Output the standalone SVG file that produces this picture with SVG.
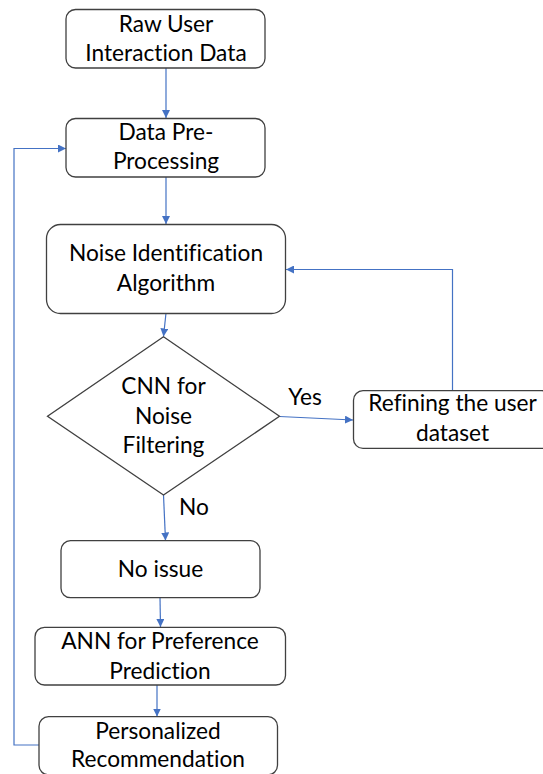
<svg xmlns="http://www.w3.org/2000/svg" width="543" height="774" viewBox="0 0 543 774">
  <style>
    .node { fill: #ffffff; stroke: #404040; stroke-width: 1.3; }
    .label { font-family: Lato, "Open Sans", "Liberation Sans", sans-serif; font-size: 22.7px; fill: #000000; text-anchor: middle; font-variant-ligatures: none; }
    .edge { fill: none; stroke: #4472c4; stroke-width: 1.2; }
  </style>
  <defs>
    <marker id="arrow" viewBox="0 0 10 10" refX="10" refY="5" markerWidth="8" markerHeight="8" markerUnits="userSpaceOnUse" orient="auto">
      <path d="M0,0 L10,5 L0,10 z" fill="#4472c4"/>
    </marker>
  </defs>
  <rect width="543" height="774" fill="#ffffff"/>

  <!-- connectors -->
  <g id="connectors">
    <line class="edge" x1="166" y1="68" x2="166" y2="118" marker-end="url(#arrow)"/>
    <line class="edge" x1="166" y1="177" x2="166" y2="224" marker-end="url(#arrow)"/>
    <line class="edge" x1="166" y1="313" x2="163.5" y2="336.5" marker-end="url(#arrow)"/>
    <line class="edge" x1="279.5" y1="416.5" x2="353" y2="420" marker-end="url(#arrow)"/>
    <polyline class="edge" points="452.5,390.5 452.5,269.5 286,269.5" marker-end="url(#arrow)"/>
    <line class="edge" x1="163.5" y1="495" x2="165.5" y2="540.5" marker-end="url(#arrow)"/>
    <line class="edge" x1="160" y1="597.5" x2="160.5" y2="627" marker-end="url(#arrow)"/>
    <line class="edge" x1="157" y1="685" x2="157" y2="716.5" marker-end="url(#arrow)"/>
    <polyline class="edge" points="39,745 14,745 14,148.5 66,148.5" marker-end="url(#arrow)"/>
    <text class="label" x="305" y="405">Yes</text>
    <text class="label" x="194" y="515">No</text>
  </g>

  <g id="raw-data">
    <rect class="node" x="66" y="9.5" width="199" height="58.5" rx="9.5"/>
    <text class="label" x="166" y="31.5">Raw User</text>
    <text class="label" x="166" y="60.5">Interaction Data</text>
  </g>

  <g id="pre-processing">
    <rect class="node" x="66" y="118.5" width="199" height="58.5" rx="9.5"/>
    <text class="label" x="166" y="140">Data Pre-</text>
    <text class="label" x="166" y="168.5">Processing</text>
  </g>

  <g id="noise-identification">
    <rect class="node" x="46.5" y="224.5" width="239" height="89" rx="14"/>
    <text class="label" x="166" y="261">Noise Identification</text>
    <text class="label" x="166" y="290.5">Algorithm</text>
  </g>

  <g id="cnn-filter">
    <polygon class="node" points="163.5,336.7 279.5,416.3 163.5,495 47.5,416.3"/>
    <text class="label" x="163.5" y="394">CNN for</text>
    <text class="label" x="163.5" y="423.5">Noise</text>
    <text class="label" x="163.5" y="453">Filtering</text>
  </g>

  <g id="refine-dataset">
    <rect class="node" x="353.5" y="390.7" width="198" height="57.7" rx="9.5"/>
    <text class="label" x="452.5" y="410.5">Refining the user</text>
    <text class="label" x="452.5" y="441">dataset</text>
  </g>

  <g id="no-issue">
    <rect class="node" x="61" y="540.7" width="199" height="57" rx="9.5"/>
    <text class="label" x="160.5" y="577">No issue</text>
  </g>

  <g id="ann-prediction">
    <rect class="node" x="35" y="627.3" width="250.5" height="57.7" rx="9.5"/>
    <text class="label" x="160" y="648.5">ANN for Preference</text>
    <text class="label" x="160" y="678.5">Prediction</text>
  </g>

  <g id="recommendation">
    <rect class="node" x="39" y="716.7" width="238.5" height="58" rx="9.5"/>
    <text class="label" x="158" y="738.5">Personalized</text>
    <text class="label" x="158" y="767">Recommendation</text>
  </g>
</svg>
